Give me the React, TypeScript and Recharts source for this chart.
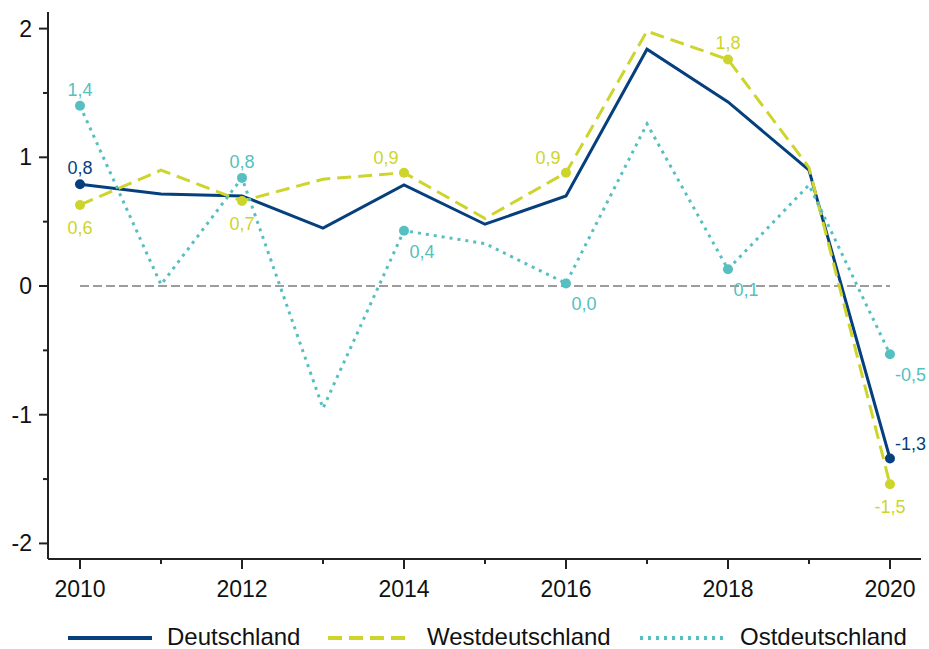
import { LabelList, Legend, Line, LineChart, ReferenceLine, XAxis, YAxis } from "recharts";

const years = [2010, 2011, 2012, 2013, 2014, 2015, 2016, 2017, 2018, 2019, 2020];
const deutschland = [0.79, 0.715, 0.7, 0.45, 0.785, 0.48, 0.7, 1.84, 1.43, 0.9, -1.34];
const westdeutschland = [0.63, 0.9, 0.66, 0.83, 0.88, 0.525, 0.88, 1.98, 1.76, 0.92, -1.54];
const ostdeutschland = [1.4, 0.01, 0.84, -0.95, 0.43, 0.33, 0.02, 1.26, 0.13, 0.785, -0.53];

const yTicks = [-2, -1.5, -1, -0.5, 0, 0.5, 1, 1.5, 2];

// which years get a dot + value label, and where the label sits
const deLabels: Record<number, string> = { 2010: "above", 2020: "upRight" };
const westLabels: Record<number, string> = {
  2010: "below",
  2012: "below",
  2014: "aboveLeft",
  2016: "aboveLeft",
  2018: "above",
  2020: "below",
};
const ostLabels: Record<number, string> = {
  2010: "above",
  2012: "above",
  2014: "belowRight",
  2016: "belowRight",
  2018: "belowRight",
  2020: "downRight",
};

const placements: Record<string, { dx: number; dy: number; anchor: string }> = {
  above: { dx: 0, dy: -16, anchor: "middle" },
  below: { dx: 0, dy: 23, anchor: "middle" },
  aboveLeft: { dx: -18, dy: -15, anchor: "middle" },
  belowRight: { dx: 18, dy: 21, anchor: "middle" },
  upRight: { dx: 5, dy: -14, anchor: "start" },
  downRight: { dx: 5, dy: 21, anchor: "start" },
};

const FONT = '"Liberation Sans", Arial, sans-serif';
const AXIS = "#222";

const rows = years.map((year, i) => ({
  year,
  deutschland: deutschland[i],
  westdeutschland: westdeutschland[i],
  ostdeutschland: ostdeutschland[i],
}));

const series = [
  { key: "deutschland", name: "Deutschland", color: "#063f7e", dash: undefined, labels: deLabels },
  { key: "westdeutschland", name: "Westdeutschland", color: "#cdd52c", dash: "14 7", labels: westLabels },
  { key: "ostdeutschland", name: "Ostdeutschland", color: "#55bfc1", dash: "3 5", labels: ostLabels },
];

const legendLayout: Record<string, { lineX: number; lineW: number; textX: number }> = {
  deutschland: { lineX: 68, lineW: 84, textX: 167 },
  westdeutschland: { lineX: 328, lineW: 78, textX: 427 },
  ostdeutschland: { lineX: 640, lineW: 85, textX: 740 },
};

const fmt = (v: number) => v.toFixed(1).replace(".", ",");

function XTick({ x, y, payload }: any) {
  const major = payload.value % 2 === 0;
  return (
    <g>
      <line x1={x} x2={x} y1={y} y2={y + (major ? 10 : 5)} stroke={AXIS} strokeWidth={2} />
      {major && (
        <text x={x} y={y + 38} textAnchor="middle" fontSize={23} fontFamily={FONT} fill="#111">
          {payload.value}
        </text>
      )}
    </g>
  );
}

function YTick({ x, y, payload }: any) {
  const major = Number.isInteger(payload.value);
  return (
    <g>
      <line x1={x - (major ? 9 : 5)} x2={x} y1={y} y2={y} stroke={AXIS} strokeWidth={2} />
      {major && (
        <text x={x - 16} y={y + 8} textAnchor="end" fontSize={23} fontFamily={FONT} fill="#111">
          {payload.value}
        </text>
      )}
    </g>
  );
}

function renderLegend() {
  return (
    <div style={{ position: "relative", width: "100%", height: 24, fontFamily: FONT }}>
      {series.map((s) => {
        const l = legendLayout[s.key];
        return (
          <div key={s.key}>
            <svg width={l.lineW} height={6} style={{ position: "absolute", left: l.lineX, top: 10 }}>
              <line
                x1={0}
                x2={l.lineW}
                y1={3}
                y2={3}
                stroke={s.color}
                strokeWidth={4}
                strokeDasharray={s.dash}
              />
            </svg>
            <span
              style={{
                position: "absolute",
                left: l.textX,
                top: 0,
                fontSize: 24,
                lineHeight: "24px",
                color: "#111",
                whiteSpace: "nowrap",
              }}
            >
              {s.name}
            </span>
          </div>
        );
      })}
    </div>
  );
}

export default function App() {
  return (
    <div style={{ position: "absolute", left: 0, top: 0, background: "#fff" }}>
      <LineChart width={929} height={649} data={rows} margin={{ top: 12, right: 8, left: 0, bottom: 0 }}>
        <XAxis
          dataKey="year"
          type="number"
          domain={[2009.605, 2020.383]}
          ticks={years}
          interval={0}
          allowDataOverflow
          tickSize={0}
          tickMargin={0}
          height={66}
          tickLine={false}
          axisLine={{ stroke: AXIS, strokeWidth: 2 }}
          tick={<XTick />}
        />
        <YAxis
          type="number"
          domain={[-2.121, 2.129]}
          ticks={yTicks}
          interval={0}
          allowDataOverflow
          width={48}
          tickSize={0}
          tickMargin={0}
          tickLine={false}
          axisLine={{ stroke: AXIS, strokeWidth: 2 }}
          tick={<YTick />}
        />
        <ReferenceLine
          segment={[
            { x: years[0], y: 0 },
            { x: years[years.length - 1], y: 0 },
          ]}
          stroke="#9c9c9c"
          strokeWidth={2}
          strokeDasharray="9 4"
        />
        {series.map((s) => (
          <Line
            key={s.key}
            type="linear"
            dataKey={s.key}
            name={s.name}
            stroke={s.color}
            strokeWidth={3}
            strokeDasharray={s.dash}
            isAnimationActive={false}
            activeDot={false}
            dot={(p: any) =>
              s.labels[p.payload.year] ? (
                <circle key={`${s.key}-d-${p.index}`} cx={p.cx} cy={p.cy} r={5} fill={s.color} />
              ) : (
                <g key={`${s.key}-d-${p.index}`} />
              )
            }
          >
            <LabelList
              dataKey={s.key}
              content={(p: any) => {
                const year = years[p.index];
                const where = s.labels[year];
                if (!where) return null;
                const pl = placements[where];
                return (
                  <text
                    x={Number(p.x) + pl.dx}
                    y={Number(p.y) + pl.dy}
                    textAnchor={pl.anchor}
                    dominantBaseline="central"
                    fontSize={18}
                    fontFamily={FONT}
                    fill={s.color}
                  >
                    {fmt(Number(p.value))}
                  </text>
                );
              }}
            />
          </Line>
        ))}
        <Legend verticalAlign="bottom" content={renderLegend} />
      </LineChart>
    </div>
  );
}
